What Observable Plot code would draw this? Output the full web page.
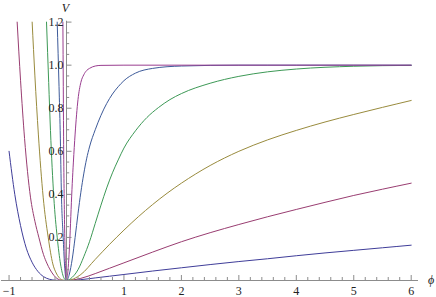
<!DOCTYPE html>
<html>
<head>
<meta charset="utf-8">
<script src="https://cdn.jsdelivr.net/npm/d3@7"></script>
<script src="https://cdn.jsdelivr.net/npm/@observablehq/plot@0.6"></script>
<style>
  html, body { margin: 0; padding: 0; background: #fff; }
  #chart svg { display: block; }
  #chart svg text { font-family: "Liberation Serif", "Times New Roman", serif; }
</style>
</head>
<body>
<div id="chart"></div>
<script>
// ---- Data ----
const c1Phi = [-1, -0.9, -0.8, -0.7, -0.6, -0.5, -0.4, -0.3, -0.2, -0.1, 0, 0.25, 0.5, 0.75, 1, 1.5, 2, 2.5, 3, 3.5, 4, 4.5, 5, 5.5, 6];
const c1V   = [0.60, 0.40, 0.255, 0.15, 0.085, 0.043, 0.018, 0.006, 0.0015, 0.0001, 0, 0.004, 0.012, 0.02, 0.028, 0.044, 0.059, 0.074, 0.088, 0.101, 0.115, 0.128, 0.140, 0.152, 0.164];

const c2Phi = [-0.859, -0.8, -0.73, -0.627, -0.55, -0.482, -0.4, -0.336, -0.25, -0.19, -0.1, 0, 0.25, 0.5, 0.75, 1, 1.5, 2, 2.5, 3, 3.5, 4, 4.5, 5, 5.5, 6];
const c2V   = [1.2, 0.93, 0.66, 0.387, 0.275, 0.201, 0.12, 0.077, 0.035, 0.015, 0.002, 0, 0.01, 0.032, 0.057, 0.082, 0.132, 0.18, 0.222, 0.26, 0.296, 0.330, 0.363, 0.395, 0.424, 0.452];

const c3Phi = [-0.598, -0.55, -0.49, -0.406, -0.319, -0.238, -0.18, -0.134, -0.07, 0, 0.25, 0.5, 0.75, 1, 1.25, 1.5, 1.75, 2, 2.5, 3, 3.5, 4, 4.5, 5, 5.5, 6];
const c3V   = [1.2, 0.95, 0.68, 0.387, 0.201, 0.077, 0.035, 0.015, 0.002, 0, 0.028, 0.098, 0.168, 0.234, 0.296, 0.353, 0.405, 0.452, 0.534, 0.600, 0.653, 0.697, 0.736, 0.771, 0.804, 0.836];

const c4Phi = [-0.348, -0.31, -0.279, -0.221, -0.162, -0.104, -0.05, 0, 0.1, 0.2, 0.3, 0.4, 0.5, 0.6, 0.7, 0.8, 0.9, 1, 1.2, 1.4, 1.6, 1.8, 2, 2.5, 3, 3.5, 4, 5, 6];
const c4V   = [1.2, 0.92, 0.697, 0.387, 0.201, 0.077, 0.015, 0, 0.015, 0.05, 0.11, 0.18, 0.265, 0.35, 0.43, 0.50, 0.56, 0.615, 0.695, 0.757, 0.803, 0.84, 0.868, 0.916, 0.948, 0.969, 0.982, 0.995, 0.999];

const c5Phi = [-0.162, -0.13, -0.11, -0.087, -0.058, -0.035, -0.015, 0, 0.05, 0.1, 0.15, 0.2, 0.25, 0.3, 0.35, 0.4, 0.5, 0.6, 0.7, 0.8, 0.9, 1, 1.2, 1.5, 2, 3, 4, 6];
const c5V   = [1.2, 0.9, 0.697, 0.387, 0.201, 0.077, 0.015, 0, 0.03, 0.1, 0.2, 0.31, 0.41, 0.495, 0.565, 0.62, 0.70, 0.767, 0.822, 0.866, 0.90, 0.928, 0.963, 0.985, 0.996, 1.0, 1.0, 1.0];

const c6Phi = [-0.063, -0.056, -0.049, -0.04, -0.03, -0.02, -0.01, 0, 0.02, 0.04, 0.06, 0.08, 0.1, 0.12, 0.15, 0.2, 0.25, 0.3, 0.35, 0.4, 0.5, 0.6, 1, 6];
const c6V   = [1.2, 0.9, 0.6, 0.38, 0.2, 0.08, 0.015, 0, 0.03, 0.1, 0.2, 0.33, 0.45, 0.55, 0.68, 0.84, 0.92, 0.955, 0.975, 0.985, 0.996, 0.999, 1.0, 1.0];

const seriesColors = ["#3f3d99", "#993d71", "#998b3d", "#3d9956", "#3d5a99", "#993d8f"];

const xTickValues = [-1, 1, 2, 3, 4, 5, 6];
const xTickLabels = ["\u22121", "1", "2", "3", "4", "5", "6"];
const yTickValues = [0.2, 0.4, 0.6, 0.8, 1.0, 1.2];
const yTickLabels = ["0.2", "0.4", "0.6", "0.8", "1.0", "1.2"];
const xLabel = "\u03d5";
const yLabel = "V";

// ---- Layout ----
const W = 436, H = 297;
const mL = 8.55, mR = 25.3, mT = 21.6, mB = 17;
const xDom = [-1, 6], yDom = [0, 1.2];
const pxPerX = (W - mL - mR) / (xDom[1] - xDom[0]);
const pxPerY = (H - mT - mB) / (yDom[1] - yDom[0]);

const series = [[c1Phi, c1V], [c2Phi, c2V], [c3Phi, c3V], [c4Phi, c4V], [c5Phi, c5V], [c6Phi, c6V]];
const lineMarks = series.map(([p, v], i) =>
  Plot.line(p.map((d, j) => ({phi: d, V: v[j]})), {
    x: "phi", y: "V", stroke: seriesColors[i], strokeWidth: 1, curve: "monotone-x"
  })
);

const minorX = d3.range(-55, 31).map(k => k / 5).filter(d => d >= -1.001 && Math.abs(d - Math.round(d)) > 1e-6);
const minorY = d3.range(1, 25).map(k => k / 20).filter(d => Math.abs(d * 5 - Math.round(d * 5)) > 1e-6);

const axisColor = "#8c8c8c";
const font = "Liberation Serif, Times New Roman, serif";

const chart = Plot.plot({
  width: W, height: H,
  marginLeft: mL, marginRight: mR, marginTop: mT, marginBottom: mB,
  x: {domain: xDom, axis: null},
  y: {domain: yDom, axis: null},
  style: {background: "#fff", overflow: "visible"},
  marks: [
    ...lineMarks,
    // axes
    Plot.ruleY([0], {x1: -1.131, x2: 6.127, stroke: axisColor, strokeWidth: 1}),
    Plot.ruleX([0], {y1: 0, y2: 1.204, stroke: axisColor, strokeWidth: 1}),
    // x ticks
    Plot.ruleX(xTickValues, {y1: 0, y2: 5 / pxPerY, stroke: axisColor}),
    Plot.ruleX(minorX, {y1: 0, y2: 3 / pxPerY, stroke: axisColor}),
    // y ticks
    Plot.ruleY(yTickValues, {x1: 0, x2: 5.5 / pxPerX, stroke: axisColor}),
    Plot.ruleY(minorY, {x1: 0, x2: 3.2 / pxPerX, stroke: axisColor}),
    // tick labels
    Plot.text(xTickValues, {x: d => d, y: 0, text: (d, i) => xTickLabels[i], dy: 11, fontSize: 12, fontFamily: font, fill: "#222"}),
    Plot.text(yTickValues, {x: 0, y: d => d, text: (d, i) => yTickLabels[i], dx: -3, textAnchor: "end", fontSize: 12, fontFamily: font, fill: "#222"}),
    // axis labels
    Plot.text([yLabel], {x: 0, y: 1.2, text: d => d, dy: -14, dx: -1, fontSize: 12, fontFamily: font, fontStyle: "italic", fill: "#222"}),
    Plot.text([xLabel], {x: 6, y: 0, text: d => d, dx: 20, fontSize: 12, fontFamily: font, fontStyle: "italic", fill: "#222"})
  ]
});
document.getElementById("chart").appendChild(chart);
</script>
</body>
</html>
